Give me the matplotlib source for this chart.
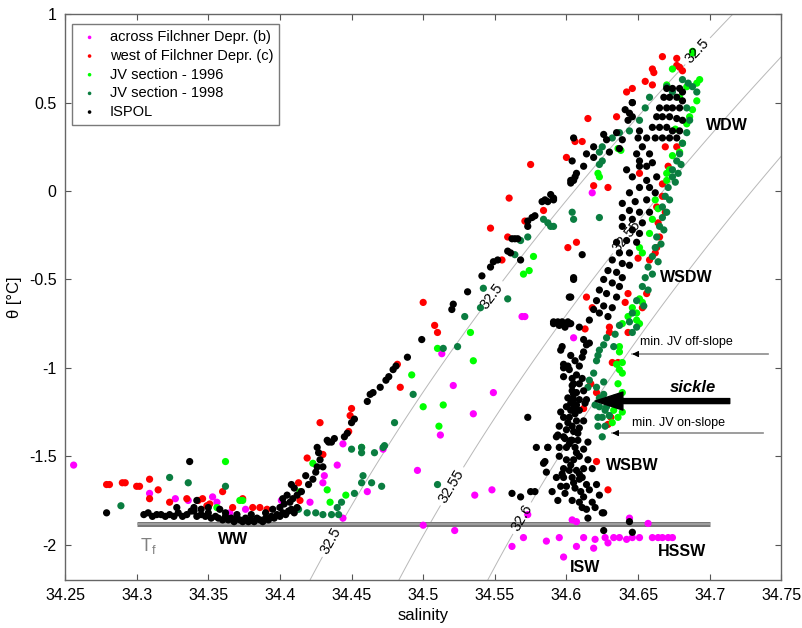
import numpy as np
import matplotlib
matplotlib.use('Agg')
import matplotlib.pyplot as plt

plt.rcParams['font.family'] = ['Liberation Sans', 'DejaVu Sans']
plt.rcParams['axes.unicode_minus'] = False

# ---- data: (salinity, potential temperature) ----
across_ts = [
    (34.256, -1.55), (34.309, -1.71), (34.327, -1.74), (34.336, -1.75), (34.353, -1.73),
    (34.356, -1.76), (34.365, -1.82), (34.376, -1.80), (34.401, -1.75), (34.421, -1.76),
    (34.431, -1.61), (34.430, -1.65), (34.440, -1.55), (34.444, -1.43), (34.461, -1.70),
    (34.444, -1.85), (34.472, -1.46), (34.496, -1.58), (34.500, -1.89), (34.522, -1.92),
    (34.513, -0.92), (34.521, -1.10), (34.535, -1.26), (34.549, -1.14), (34.512, -1.38),
    (34.569, -0.71), (34.571, -0.71), (34.602, -0.75), (34.605, -0.83), (34.618, -0.01),
    (34.536, -1.72), (34.548, -1.69), (34.562, -2.01), (34.570, -1.96), (34.573, -1.83),
    (34.586, -1.98), (34.595, -1.96), (34.598, -2.07), (34.604, -1.86), (34.607, -1.87),
    (34.607, -2.01), (34.612, -1.96), (34.619, -2.02), (34.620, -1.97), (34.629, -1.99),
    (34.633, -1.96), (34.642, -1.97), (34.644, -1.85), (34.646, -1.96), (34.651, -1.96),
    (34.657, -1.88), (34.660, -1.96), (34.664, -1.96), (34.667, -1.96), (34.671, -1.96),
    (34.674, -1.96), (34.637, -1.96), (34.627, -1.96),
]

west_ts = [
    (34.279, -1.66), (34.281, -1.66), (34.290, -1.65), (34.292, -1.65), (34.300, -1.67),
    (34.302, -1.67), (34.309, -1.63), (34.315, -1.69), (34.309, -1.74), (34.323, -1.76),
    (34.335, -1.74), (34.346, -1.74), (34.351, -1.77), (34.360, -1.70), (34.374, -1.74),
    (34.381, -1.79), (34.386, -1.79), (34.391, -1.80), (34.343, -1.75), (34.349, -1.78),
    (34.367, -1.79), (34.413, -1.65), (34.414, -1.75), (34.419, -1.51), (34.430, -1.49),
    (34.428, -1.31), (34.449, -1.27), (34.450, -1.23), (34.448, -1.36), (34.484, -1.11),
    (34.482, -0.98), (34.500, -0.63), (34.508, -0.76), (34.510, -0.80), (34.547, -0.21),
    (34.555, -0.39), (34.559, -0.26), (34.560, -0.04), (34.571, -0.17), (34.575, 0.15),
    (34.584, -0.11), (34.600, 0.19), (34.606, 0.28), (34.611, 0.28), (34.601, -0.32),
    (34.607, -0.29), (34.667, 0.76), (34.677, 0.75), (34.677, 0.71), (34.679, 0.70),
    (34.681, 0.68), (34.660, 0.69), (34.661, 0.67), (34.655, 0.62), (34.660, 0.60),
    (34.642, 0.56), (34.646, 0.58), (34.615, 0.41), (34.635, 0.42), (34.651, 0.10),
    (34.629, 0.02), (34.619, 0.03), (34.667, 0.04), (34.669, 0.25), (34.671, 0.14),
    (34.677, 0.25), (34.667, -0.03), (34.663, -0.09), (34.669, -0.12), (34.664, -0.18),
    (34.665, -0.26), (34.663, -0.32), (34.662, -0.35), (34.658, -0.39), (34.650, -0.38),
    (34.614, -0.60), (34.618, -0.66), (34.630, -0.80), (34.641, -0.63), (34.643, -0.58),
    (34.656, -0.58), (34.653, -0.66), (34.613, -0.78), (34.630, -0.77), (34.643, -0.80),
    (34.632, -0.97), (34.636, -0.97), (34.617, -1.09), (34.621, -1.14), (34.612, -1.23),
    (34.631, -1.28), (34.629, -1.32), (34.621, -1.53), (34.629, -1.69),
]

jv1996_ts = [
    (34.362, -1.53), (34.372, -1.75), (34.374, -1.75), (34.356, -1.79), (34.414, -1.70),
    (34.423, -1.54), (34.433, -1.69), (34.446, -1.72), (34.457, -1.45), (34.435, -1.76),
    (34.492, -1.04), (34.510, -0.89), (34.500, -1.22), (34.514, -1.21), (34.511, -1.33),
    (34.533, -0.80), (34.535, -0.96), (34.570, -0.47), (34.574, -0.45), (34.577, -0.37),
    (34.688, 0.78), (34.688, 0.79), (34.674, 0.69), (34.670, 0.60), (34.684, 0.59),
    (34.679, 0.53), (34.691, 0.61), (34.693, 0.63), (34.691, 0.51), (34.688, 0.46),
    (34.686, 0.42), (34.684, 0.38), (34.681, 0.27), (34.679, 0.22), (34.670, 0.10),
    (34.672, 0.12), (34.670, 0.06), (34.651, -0.32), (34.653, -0.35), (34.658, -0.24),
    (34.660, -0.16), (34.622, 0.10), (34.623, 0.08), (34.636, 0.24), (34.638, 0.23),
    (34.651, -0.61), (34.653, -0.63), (34.646, -0.66), (34.643, -0.71), (34.649, -0.69),
    (34.639, -0.75), (34.637, -0.88), (34.637, -0.91), (34.639, -0.97), (34.635, -0.98),
    (34.637, -1.01), (34.639, -1.03), (34.636, -1.09), (34.639, -1.14), (34.634, -1.17),
    (34.633, -1.24), (34.630, -1.27), (34.636, -1.28), (34.632, -1.31), (34.639, -1.25),
    (34.649, -0.73), (34.651, -0.75), (34.676, 0.35), (34.674, 0.20), (34.662, -0.05),
    (34.664, -0.10),
]

jv1998_ts = [
    (34.289, -1.78), (34.323, -1.62), (34.336, -1.65), (34.362, -1.67), (34.450, -1.46),
    (34.457, -1.48), (34.466, -1.48), (34.472, -1.45), (34.458, -1.61), (34.457, -1.65),
    (34.464, -1.65), (34.471, -1.67), (34.452, -1.71), (34.443, -1.76), (34.440, -1.79),
    (34.441, -1.83), (34.436, -1.83), (34.430, -1.83), (34.425, -1.82), (34.419, -1.82),
    (34.413, -1.80), (34.510, -1.66), (34.473, -1.44), (34.480, -1.31), (34.493, -1.15),
    (34.514, -0.89), (34.524, -0.88), (34.529, -0.71), (34.540, -0.66), (34.542, -0.55),
    (34.559, -0.61), (34.564, -0.36), (34.568, -0.28), (34.573, -0.26), (34.584, -0.16),
    (34.587, -0.18), (34.591, -0.20), (34.605, -0.16), (34.457, -1.45),
    (34.670, 0.59), (34.674, 0.56), (34.681, 0.63), (34.685, 0.61), (34.688, 0.59),
    (34.691, 0.56), (34.658, 0.53), (34.655, 0.47), (34.651, 0.40), (34.644, 0.34),
    (34.637, 0.33), (34.632, 0.30), (34.625, 0.25), (34.623, 0.22), (34.684, 0.47),
    (34.686, 0.40), (34.684, 0.33), (34.681, 0.27), (34.679, 0.21), (34.677, 0.17),
    (34.674, 0.12), (34.674, 0.08), (34.671, 0.02), (34.669, -0.03), (34.667, -0.09),
    (34.667, -0.15), (34.665, -0.20), (34.663, -0.26), (34.662, -0.32), (34.660, -0.37),
    (34.657, -0.43), (34.655, -0.49), (34.653, -0.54), (34.649, -0.62), (34.646, -0.69),
    (34.644, -0.74), (34.637, -0.76), (34.625, 0.17), (34.623, 0.15), (34.589, -0.20),
    (34.623, -0.15), (34.604, -0.12), (34.672, -0.05), (34.670, -0.12), (34.668, -0.22),
    (34.666, -0.30), (34.664, -0.40), (34.660, -0.47), (34.657, -0.56), (34.654, -0.65),
    (34.676, 0.05), (34.678, 0.10), (34.680, 0.15),
    (34.628, -0.83), (34.626, -0.87), (34.623, -0.90), (34.621, -0.96), (34.619, -1.03),
    (34.626, -1.08), (34.621, -1.11), (34.623, -1.17), (34.620, -1.21), (34.627, -1.24),
    (34.630, -1.27), (34.625, -1.28), (34.622, -1.33), (34.627, -1.33), (34.625, -1.39),
    (34.634, -0.81), (34.633, -0.88), (34.622, -0.93), (34.616, -1.07), (34.615, -1.11),
    (34.626, -1.15), (34.623, -1.22), (34.622, -1.28), (34.628, -1.22), (34.646, -0.80),
    (34.649, -0.77),
]

ispol_ts = [
    # winter water near the surface freezing point
    (34.305, -1.83), (34.308, -1.82), (34.311, -1.84), (34.314, -1.83), (34.317, -1.83),
    (34.320, -1.84), (34.323, -1.83), (34.326, -1.84), (34.329, -1.82), (34.332, -1.84),
    (34.335, -1.83), (34.338, -1.81), (34.340, -1.79), (34.342, -1.84), (34.345, -1.83),
    (34.348, -1.84), (34.350, -1.82), (34.352, -1.85), (34.355, -1.84), (34.357, -1.85),
    (34.360, -1.86), (34.362, -1.84), (34.364, -1.86), (34.366, -1.85), (34.368, -1.87),
    (34.370, -1.85), (34.372, -1.86), (34.374, -1.87), (34.376, -1.85), (34.378, -1.87),
    (34.380, -1.86), (34.382, -1.87), (34.384, -1.85), (34.386, -1.86), (34.388, -1.87),
    (34.390, -1.85), (34.392, -1.86), (34.394, -1.84), (34.396, -1.85), (34.398, -1.83),
    (34.400, -1.84), (34.402, -1.82), (34.404, -1.83), (34.406, -1.81), (34.408, -1.80),
    (34.410, -1.82), (34.412, -1.79), (34.358, -1.80), (34.362, -1.82), (34.370, -1.83),
    (34.380, -1.83), (34.390, -1.82), (34.400, -1.79), (34.395, -1.80), (34.403, -1.77),
    (34.407, -1.76), (34.350, -1.79), (34.345, -1.80), (34.340, -1.81),
    (34.279, -1.82), (34.337, -1.53), (34.342, -1.75), (34.328, -1.79),
    # ramp towards the warm deep water
    (34.408, -1.66), (34.410, -1.68), (34.418, -1.61), (34.426, -1.45), (34.427, -1.48),
    (34.428, -1.52), (34.430, -1.56), (34.426, -1.56), (34.433, -1.41), (34.436, -1.42),
    (34.402, -1.74), (34.405, -1.72), (34.409, -1.74), (34.412, -1.72), (34.415, -1.70),
    (34.420, -1.66), (34.423, -1.63), (34.425, -1.59), (34.434, -1.42), (34.438, -1.40),
    (34.445, -1.39), (34.447, -1.37), (34.450, -1.31), (34.452, -1.29), (34.461, -1.19),
    (34.463, -1.15), (34.465, -1.14), (34.470, -1.11), (34.474, -1.07), (34.476, -1.05),
    (34.479, -1.01), (34.481, -0.99), (34.489, -0.94), (34.499, -0.84), (34.520, -0.67),
    (34.521, -0.64), (34.531, -0.57), (34.541, -0.48), (34.547, -0.43), (34.549, -0.40),
    (34.552, -0.39), (34.559, -0.34), (34.561, -0.35), (34.562, -0.27), (34.564, -0.27),
    (34.566, -0.27), (34.568, -0.39), (34.573, -0.20), (34.573, -0.17), (34.576, -0.15),
    (34.578, -0.14), (34.583, -0.06), (34.585, -0.05), (34.587, -0.06), (34.591, -0.05),
    (34.603, 0.045), (34.605, 0.06), (34.606, 0.08), (34.607, 0.10),
    # bottom water column
    (34.605, -0.49), (34.603, -0.60), (34.591, -0.74), (34.595, -0.75), (34.597, -0.74),
    (34.601, -0.74), (34.603, -0.75), (34.599, -0.77), (34.597, -0.88), (34.596, -0.90),
    (34.598, -0.98), (34.601, -0.99), (34.604, -1.06), (34.604, -1.10), (34.605, -1.15),
    (34.607, -1.21), (34.603, -1.24), (34.594, -1.38), (34.598, -1.39), (34.603, -1.41),
    (34.573, -1.28),
    (34.591, -0.75), (34.595, -0.76), (34.602, -0.75), (34.609, -0.77), (34.612, -0.84),
    (34.614, -0.87), (34.616, -0.86), (34.612, -0.91), (34.611, -0.94), (34.598, -1.00),
    (34.602, -1.01), (34.607, -1.04), (34.605, -1.09), (34.609, -1.09), (34.604, -1.13),
    (34.607, -1.14), (34.612, -1.13), (34.601, -1.17), (34.605, -1.18), (34.609, -1.18),
    (34.614, -1.18), (34.600, -1.22), (34.605, -1.23), (34.609, -1.24), (34.598, -1.28),
    (34.602, -1.28), (34.607, -1.30), (34.612, -1.30), (34.595, -1.33), (34.600, -1.35),
    (34.605, -1.36), (34.609, -1.34), (34.593, -1.39), (34.599, -1.40), (34.604, -1.41),
    (34.608, -1.41), (34.595, -1.45), (34.600, -1.45), (34.606, -1.45), (34.587, -1.45),
    (34.585, -1.53), (34.595, -1.50), (34.600, -1.52), (34.605, -1.52), (34.609, -1.50),
    (34.615, -1.52), (34.598, -1.57), (34.602, -1.58), (34.607, -1.58), (34.612, -1.57),
    (34.618, -1.57), (34.598, -1.62), (34.604, -1.62), (34.609, -1.63), (34.600, -1.67),
    (34.606, -1.68), (34.614, -1.66), (34.621, -1.66), (34.594, -1.75), (34.604, -1.75),
    (34.609, -1.76), (34.618, -1.76), (34.623, -1.72), (34.625, -1.82), (34.626, -1.82),
    (34.615, -1.85), (34.626, -1.92), (34.646, -1.93), (34.644, -1.87),
    (34.579, -1.45), (34.587, -1.45), (34.584, -1.54), (34.586, -1.59), (34.562, -1.71),
    (34.568, -1.73), (34.575, -1.70), (34.578, -1.70), (34.611, -1.79),
    (34.603, -1.20), (34.606, -1.26), (34.601, -1.31), (34.604, -1.33), (34.608, -1.37),
    (34.602, -1.43), (34.607, -1.48), (34.603, -1.55), (34.609, -1.60), (34.605, -1.65),
    (34.610, -1.70), (34.612, -1.73), (34.614, -1.80), (34.620, -1.79), (34.616, -1.69),
    (34.611, -1.62), (34.597, -1.60), (34.593, -1.62), (34.596, -1.67), (34.599, -1.71),
    (34.590, -1.70), (34.606, -0.96), (34.603, -0.93), (34.609, -0.99), (34.611, -1.06),
    (34.598, -1.05), (34.613, -1.20), (34.596, -1.25), (34.612, -1.46), (34.615, -1.42),
    # warm deep water core and its upper limb
    (34.670, 0.58), (34.674, 0.58), (34.679, 0.58), (34.681, 0.56), (34.668, 0.53),
    (34.672, 0.53), (34.677, 0.53), (34.681, 0.51), (34.665, 0.47), (34.670, 0.47),
    (34.674, 0.47), (34.679, 0.47), (34.663, 0.42), (34.667, 0.42), (34.672, 0.42),
    (34.677, 0.41), (34.681, 0.40), (34.660, 0.36), (34.665, 0.36), (34.670, 0.36),
    (34.674, 0.34), (34.679, 0.34), (34.651, 0.34), (34.650, 0.30), (34.656, 0.30),
    (34.662, 0.30), (34.667, 0.30), (34.672, 0.30), (34.677, 0.30), (34.644, 0.44),
    (34.646, 0.42), (34.641, 0.46), (34.643, 0.40), (34.639, 0.29), (34.637, 0.24),
    (34.649, 0.21), (34.651, 0.17), (34.653, 0.25), (34.658, 0.21), (34.642, 0.12),
    (34.646, 0.08), (34.651, 0.14), (34.656, 0.14), (34.660, 0.16), (34.663, 0.08),
    (34.656, 0.06), (34.651, 0.02), (34.644, -0.01), (34.658, 0.02), (34.662, -0.01),
    (34.656, -0.05), (34.648, -0.06), (34.639, -0.07), (34.644, -0.11), (34.651, -0.12),
    (34.658, -0.12), (34.639, -0.15), (34.646, -0.16), (34.653, -0.18), (34.639, -0.20),
    (34.646, -0.22), (34.651, -0.24), (34.642, -0.28), (34.649, -0.29), (34.635, -0.29),
    (34.637, -0.35), (34.644, -0.35), (34.632, -0.39), (34.639, -0.41), (34.644, -0.42),
    (34.629, -0.45), (34.635, -0.46), (34.639, -0.49), (34.626, -0.50), (34.632, -0.52),
    (34.637, -0.54), (34.623, -0.56), (34.628, -0.58), (34.635, -0.60), (34.621, -0.62),
    (34.626, -0.65), (34.632, -0.66), (34.619, -0.67), (34.623, -0.69), (34.629, -0.71),
    (34.616, -0.73), (34.605, -0.50), (34.602, -0.60), (34.611, -0.36), (34.594, -0.74),
    (34.605, 0.30), (34.604, 0.17), (34.614, 0.21), (34.619, 0.25), (34.603, 0.06),
    (34.626, 0.32), (34.628, 0.29), (34.635, 0.33), (34.646, 0.50), (34.646, 0.50),
    (34.619, 0.19), (34.630, 0.22), (34.612, 0.14), (34.591, -0.04), (34.589, -0.02),
]

series = [
    ('across Filchner Depr. (b)', across_ts, '#ff00ff'),
    ('west of Filchner Depr. (c)', west_ts, '#ff0000'),
    ('JV section - 1996', jv1996_ts, '#00ff00'),
    ('JV section - 1998', jv1998_ts, '#0a7d40'),
    ('ISPOL', ispol_ts, '#000000'),
]

# isopycnals (sigma_1) drawn as labelled contours
sigma_levels = [32.5, 32.55, 32.6]
# surface freezing temperature line
tf_sal = [34.3, 34.7]
tf_temp = [-1.885, -1.885]


def sigma1(s, t):
    # simple quadratic fit of sigma_1 over the plotted S/T range
    return 32.5 + 0.806 * ((s - 34.421) - 0.1023 * (t + 2.2) - 0.0084 * (t ** 2 - 4.84))


fig = plt.figure(figsize=(8.03, 6.28), dpi=100)
ax = fig.add_axes([0.081, 0.0764, 0.892, 0.901])

sg, tg = np.meshgrid(np.linspace(34.25, 34.75, 400), np.linspace(-2.2, 1.0, 400))
cs = ax.contour(sg, tg, sigma1(sg, tg), levels=sigma_levels, colors='#b8b8b8',
                linewidths=0.7, zorder=1)
label_pos = [(34.436, -1.98), (34.549, -0.60), (34.693, 0.78),
             (34.520, -1.67), (34.643, -0.26), (34.569, -1.85)]
ax.clabel(cs, fmt='%g', fontsize=10.5, inline=True, inline_spacing=4,
          manual=label_pos, colors='k')

# freezing line
ax.plot(tf_sal, tf_temp, color='#787878', lw=3.6, solid_capstyle='butt', zorder=1.5)
ax.plot(tf_sal, tf_temp, color='#a6a6a6', lw=1.2, solid_capstyle='butt', zorder=1.6)

for i, (name, pts, col) in enumerate(series):
    arr = np.array(pts)
    ax.scatter(arr[:, 0], arr[:, 1], s=27, c=col, edgecolors='none', label=name,
               zorder=2 + i * 0.1)

ax.set_xlim(34.25, 34.75)
ax.set_ylim(-2.2, 1.0)
ax.set_xticks(np.arange(34.25, 34.76, 0.05))
ax.set_xticklabels(['%g' % round(v, 2) for v in np.arange(34.25, 34.76, 0.05)])
ax.set_yticks([-2, -1.5, -1, -0.5, 0, 0.5, 1])
ax.set_yticklabels(['-2', '-1.5', '-1', '-0.5', '0', '0.5', '1'])
ax.tick_params(direction='in', top=True, right=True, length=4, width=0.8,
               color='#555555', labelsize=11.5, pad=6)
for sp in ax.spines.values():
    sp.set_color('#666666')
    sp.set_linewidth(1.0)
ax.set_xlabel('salinity', fontsize=12, labelpad=3)
ax.set_ylabel('θ [°C]', fontsize=12, labelpad=5)

# water mass names
bold = dict(fontsize=11.5, fontweight='bold', ha='center', va='center')
ax.text(34.712, 0.37, 'WDW', **bold)
ax.text(34.684, -0.49, 'WSDW', **bold)
ax.text(34.646, -1.55, 'WSBW', **bold)
ax.text(34.681, -2.04, 'HSSW', **bold)
ax.text(34.613, -2.13, 'ISW', **bold)
ax.text(34.367, -1.97, 'WW', **bold)
ax.text(34.308, -2.01, r'$\mathregular{T_f}$', fontsize=13, color='#808080',
        ha='center', va='center')

# sickle annotations
ax.plot([34.741, 34.646], [-0.922, -0.922], color='#8c8c8c', lw=1.2, zorder=3)
ax.annotate('', xy=(34.644, -0.922), xytext=(34.652, -0.922),
            arrowprops=dict(arrowstyle='-|>', color='k', lw=0.8, mutation_scale=9), zorder=3)
ax.plot([34.737, 34.632], [-1.369, -1.369], color='#8c8c8c', lw=1.2, zorder=3)
ax.annotate('', xy=(34.630, -1.369), xytext=(34.638, -1.369),
            arrowprops=dict(arrowstyle='-|>', color='k', lw=0.8, mutation_scale=9), zorder=3)
ax.annotate('', xy=(34.620, -1.188), xytext=(34.714, -1.188),
            arrowprops=dict(width=3.6, headwidth=13, headlength=20, color='k', shrink=0),
            zorder=3)
ax.text(34.684, -0.854, 'min. JV off-slope', fontsize=9, ha='center', va='center')
ax.text(34.688, -1.109, 'sickle', fontsize=12, fontweight='bold', style='italic',
        ha='center', va='center')
ax.text(34.678, -1.312, 'min. JV on-slope', fontsize=9, ha='center', va='center')

leg = ax.legend(loc='upper left', bbox_to_anchor=(0.0098, 0.982), borderaxespad=0,
                fontsize=10.5, markerscale=0.5, handletextpad=0.6, labelspacing=0.32,
                borderpad=0.4, handlelength=1.6, fancybox=False, framealpha=1,
                edgecolor='#7a7a7a')
leg.get_frame().set_linewidth(1.0)

fig.savefig('out.png', dpi=100)
